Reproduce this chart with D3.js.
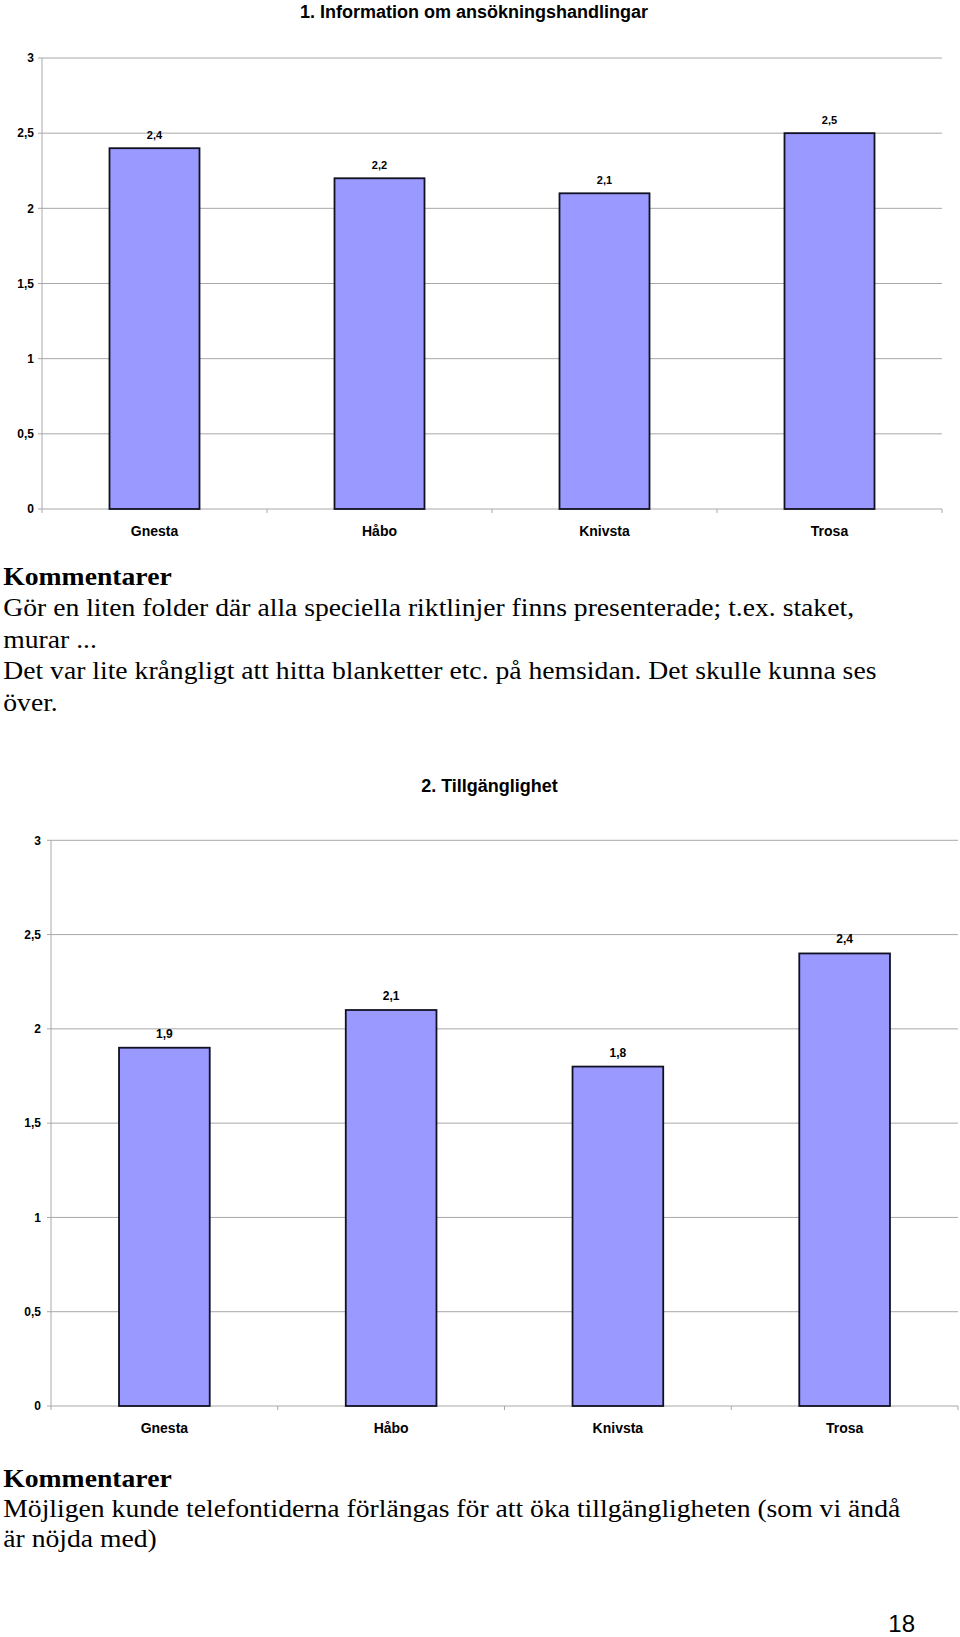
<!DOCTYPE html>
<html>
<head>
<meta charset="utf-8">
<script src="https://cdn.jsdelivr.net/npm/d3@7"></script>
<style>
  html, body { margin: 0; padding: 0; background: #fff; }
  svg { display: block; }
</style>
</head>
<body>
<svg id="page" width="960" height="1637"></svg>
<script>
// ---------- data ----------
const categories = ["Gnesta", "Håbo", "Knivsta", "Trosa"];
const values1 = [2.4, 2.2, 2.1, 2.5];
const values2 = [1.9, 2.1, 1.8, 2.4];
const yTicks = [0, 0.5, 1, 1.5, 2, 2.5, 3];
const title1 = "1. Information om ansökningshandlingar";
const title2 = "2. Tillgänglighet";
const commentHeading = "Kommentarer";
const comments1 = [
  "Gör en liten folder där alla speciella riktlinjer finns presenterade; t.ex. staket,",
  "murar ...",
  "Det var lite krångligt att hitta blanketter etc. på hemsidan. Det skulle kunna ses",
  "över."
];
const comments2 = [
  "Möjligen kunde telefontiderna förlängas för att öka tillgängligheten (som vi ändå",
  "är nöjda med)"
];
const pageNumber = "18";

// ---------- layout ----------
const svg = d3.select("#page");
const fmt = v => String(v).replace(".", ",");
const SANS = "Arial, 'Liberation Sans', Helvetica, sans-serif";
const SERIF = "'Times New Roman', 'Liberation Serif', serif";

function barChart(cfg) {
  const g = svg.append("g");
  const x = d3.scaleBand().domain(categories)
    .range([cfg.left, cfg.right]).paddingInner(0.6).paddingOuter(0.3);
  const y = d3.scaleLinear().domain([0, 3]).range([cfg.bottom, cfg.top]);

  // title
  g.append("text").attr("x", cfg.titleX).attr("y", cfg.titleY)
    .attr("text-anchor", "middle").attr("font-family", SANS)
    .attr("font-weight", "bold").attr("font-size", cfg.titleSize)
    .text(cfg.title);

  // gridlines
  g.selectAll("line.grid").data(yTicks).join("line")
    .attr("x1", cfg.left - 4).attr("x2", cfg.right)
    .attr("y1", d => y(d)).attr("y2", d => y(d))
    .attr("stroke", "#a8a8a8").attr("stroke-width", 1);

  // y axis line
  g.append("line").attr("x1", cfg.left).attr("x2", cfg.left)
    .attr("y1", y(3)).attr("y2", y(0))
    .attr("stroke", "#a8a8a8").attr("stroke-width", 1);

  // y tick labels
  g.selectAll("text.ytick").data(yTicks).join("text")
    .attr("x", cfg.left - cfg.tickGap).attr("y", d => y(d))
    .attr("dy", "0.35em").attr("text-anchor", "end")
    .attr("font-family", SANS).attr("font-weight", "bold")
    .attr("font-size", 12).text(fmt);

  // x category boundary ticks
  const bounds = d3.range(categories.length + 1).map(i => x.range()[0] + i * x.step());
  g.selectAll("line.xtick").data(bounds).join("line")
    .attr("x1", d => d).attr("x2", d => d)
    .attr("y1", y(0)).attr("y2", y(0) + 4)
    .attr("stroke", "#a8a8a8").attr("stroke-width", 1);

  // bars
  g.selectAll("rect.bar").data(cfg.values).join("rect")
    .attr("x", (d, i) => x(categories[i]))
    .attr("width", x.bandwidth())
    .attr("y", d => y(d))
    .attr("height", d => y(0) - y(d))
    .attr("fill", "#9999ff")
    .attr("stroke", "#111122").attr("stroke-width", 1.8);

  // value labels
  g.selectAll("text.val").data(cfg.values).join("text")
    .attr("x", (d, i) => x(categories[i]) + x.bandwidth() / 2)
    .attr("y", d => y(d) - cfg.valGap)
    .attr("text-anchor", "middle").attr("font-family", SANS)
    .attr("font-weight", "bold").attr("font-size", cfg.valSize)
    .text(fmt);

  // category labels
  g.selectAll("text.cat").data(categories).join("text")
    .attr("x", d => x(d) + x.bandwidth() / 2)
    .attr("y", y(0) + 27)
    .attr("text-anchor", "middle").attr("font-family", SANS)
    .attr("font-weight", "bold").attr("font-size", 14)
    .text(d => d);
}

function commentBlock(headY, lines, spacing) {
  const g = svg.append("g").attr("transform", "scale(1.085,1)");
  g.append("text").attr("x", 3).attr("y", headY)
    .attr("font-family", SERIF).attr("font-weight", "bold")
    .attr("font-size", 25.5).text(commentHeading);
  g.selectAll("text.line").data(lines).join("text")
    .attr("x", 3).attr("y", (d, i) => headY + spacing * (i + 1))
    .attr("font-family", SERIF).attr("font-size", 25.5)
    .text(d => d);
}

barChart({
  title: title1, titleX: 474, titleY: 18, titleSize: 18,
  left: 42, right: 942, top: 58, bottom: 509,
  values: values1, tickGap: 8, valGap: 9, valSize: 11
});
commentBlock(585, comments1, 31.5);

barChart({
  title: title2, titleX: 489.5, titleY: 792, titleSize: 18,
  left: 51, right: 958, top: 840.3, bottom: 1406,
  values: values2, tickGap: 10, valGap: 10, valSize: 12
});
commentBlock(1487, comments2, 30);

svg.append("text").attr("x", 915).attr("y", 1632)
  .attr("text-anchor", "end").attr("font-family", SANS)
  .attr("font-size", 24).text(pageNumber);
</script>
</body>
</html>
